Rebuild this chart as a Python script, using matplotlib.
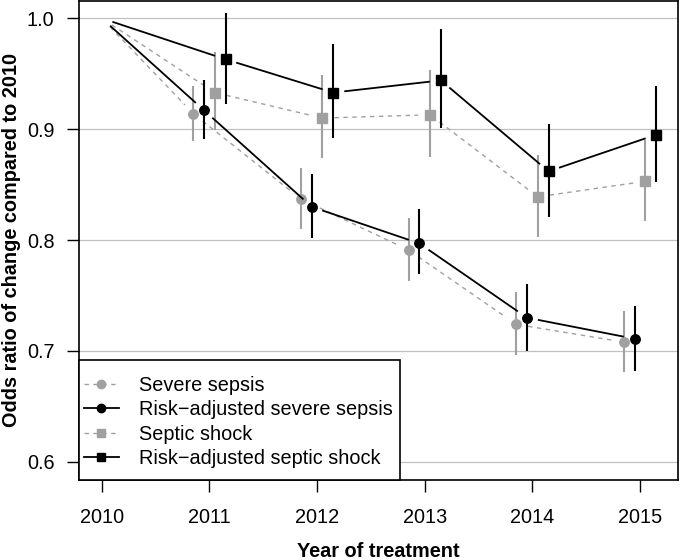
import numpy as np
import matplotlib
matplotlib.use("Agg")
import matplotlib.pyplot as plt
from matplotlib.lines import Line2D
from matplotlib.patches import Rectangle

plt.rcParams['font.family'] = ['Liberation Sans', 'DejaVu Sans']

years = [2010, 2011, 2012, 2013, 2014, 2015]
year_labels = ["2010", "2011", "2012", "2013", "2014", "2015"]
y_ticks = [0.6, 0.7, 0.8, 0.9, 1.0]
y_tick_labels = ["0.6", "0.7", "0.8", "0.9", "1.0"]

labels = ["Severe sepsis", "Risk\u2212adjusted severe sepsis",
          "Septic shock", "Risk\u2212adjusted septic shock"]

# point estimates (2010 reference = 1.0), lower and upper CI
sev = [1.0, 0.914, 0.837, 0.791, 0.724, 0.708]
sev_lo = [None, 0.889, 0.810, 0.763, 0.696, 0.681]
sev_hi = [None, 0.939, 0.865, 0.820, 0.753, 0.736]

sev_adj = [1.0, 0.917, 0.830, 0.797, 0.730, 0.711]
sev_adj_lo = [None, 0.891, 0.802, 0.769, 0.700, 0.682]
sev_adj_hi = [None, 0.944, 0.860, 0.828, 0.760, 0.741]

sho = [1.0, 0.933, 0.910, 0.913, 0.839, 0.853]
sho_lo = [None, 0.899, 0.874, 0.875, 0.803, 0.817]
sho_hi = [None, 0.970, 0.949, 0.953, 0.877, 0.890]

sho_adj = [1.0, 0.963, 0.933, 0.944, 0.862, 0.895]
sho_adj_lo = [None, 0.923, 0.892, 0.901, 0.821, 0.852]
sho_adj_hi = [None, 1.005, 0.977, 0.990, 0.905, 0.939]

offsets = [-0.15, -0.05, 0.05, 0.15]

GRAY = "#a0a0a0"
BLACK = "#000000"
FS = 14.3

fig = plt.figure(figsize=(6.8, 5.6), dpi=100)
ax = fig.add_axes([79/680, 1 - 479.5/560, (678 - 79)/680, (479.5 - 1)/560])
ax.set_xlim(2009.788, 2015.353)
ax.set_ylim(0.5841, 1.0156)

for yv in y_ticks:
    ax.axhline(yv, color="#c0c0c0", lw=0.9, zorder=0)

GAP = 12.0


def gapped(xs, ys, **kw):
    pts = ax.transData.transform(np.column_stack([xs, ys]))
    inv = ax.transData.inverted()
    for i in range(len(pts) - 1):
        p0, p1 = pts[i], pts[i + 1]
        d = p1 - p0
        L = np.hypot(*d)
        if L <= 2 * GAP:
            continue
        u = d / L
        seg = inv.transform(np.array([p0 + u * GAP, p1 - u * GAP]))
        ax.plot(seg[:, 0], seg[:, 1], **kw)


series = [
    (sev, sev_lo, sev_hi, GRAY, 'o', '--'),
    (sev_adj, sev_adj_lo, sev_adj_hi, BLACK, 'o', '-'),
    (sho, sho_lo, sho_hi, GRAY, 's', '--'),
    (sho_adj, sho_adj_lo, sho_adj_hi, BLACK, 's', '-'),
]

handles = []
for k, (val, lo, hi, col, mk, ls) in enumerate(series):
    xs = [years[0]] + [y + offsets[k] for y in years[1:]]
    z = 2 if col == GRAY else 3
    lw_line = 1.0 if ls == '--' else 1.3
    if ls == '--':
        gapped(xs, val, color=col, lw=lw_line, dashes=(3.2, 3.2), zorder=z)
    else:
        gapped(xs, val, color=col, lw=lw_line, zorder=z)
    ax.vlines(xs[1:], lo[1:], hi[1:], color=col, lw=1.5, zorder=z)
    ax.plot(xs[1:], val[1:], linestyle='none', marker=mk, ms=6.8 if mk == 'o' else 6.5,
            color=col, mec=col, zorder=z + 0.5)
    h = Line2D([], [], color=col, lw=lw_line, marker=mk, ms=6.0 if mk == 'o' else 5.8,
               mec=col, mfc=col)
    if ls == '--':
        h.set_dashes((3.2, 3.2))
    handles.append(h)

ax.set_xticks(years)
ax.set_xticklabels(year_labels)
ax.set_yticks(y_ticks)
ax.set_yticklabels(y_tick_labels)
ax.tick_params(axis='both', direction='out', length=8.6, width=1.0, labelsize=FS,
               color='black')
ax.tick_params(axis='x', pad=12)
ax.tick_params(axis='y', pad=9)
for s in ax.spines.values():
    s.set_linewidth(1.2)

ax.set_xlabel("Year of treatment", fontsize=FS, fontweight='bold', labelpad=10.5)
ax.set_ylabel("Odds ratio of change compared to 2010", fontsize=FS,
              fontweight='bold', labelpad=4)

# legend box (R-style, attached to bottom-left corner)
box_w = (400 - 79) / 599
box_h = (480 - 360) / 478.5
ax.add_patch(Rectangle((0, 0), box_w, box_h, transform=ax.transAxes,
                       facecolor='white', edgecolor='black', lw=1.2, zorder=9,
                       clip_on=False))
leg = ax.legend(handles, labels, loc='center left',
                bbox_to_anchor=(0, box_h / 2 - 2.5 / 478.5),
                borderaxespad=0, fontsize=FS, frameon=False,
                handlelength=1.76, handletextpad=1.0, labelspacing=0.26,
                borderpad=0.25, numpoints=1)
leg.set_zorder(10)

fig.savefig("out.png", dpi=100)
